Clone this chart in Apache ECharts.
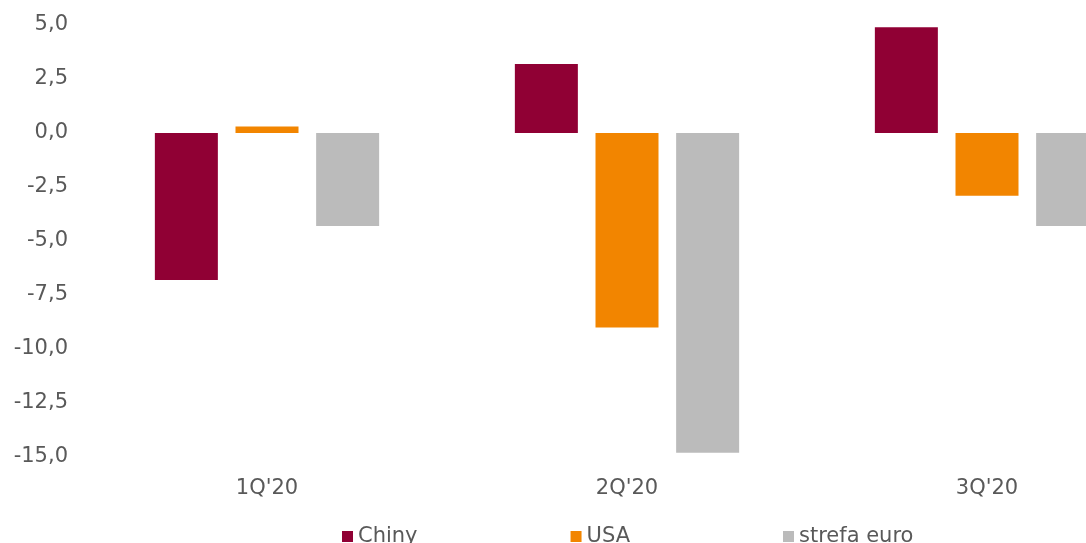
<!DOCTYPE html>
<html lang="pl">
<head>
    <meta charset="UTF-8">
    <title>PKB</title>
    <style>
        html, body { margin: 0; padding: 0; background: #fff; overflow: hidden; }
    </style>
</head>
<body>
<div id="container" style="width: 1200px; height: 543px"></div>
<script type="text/javascript" src="https://cdn.jsdelivr.net/npm/echarts@6/dist/echarts.min.js"></script>
<script type="text/javascript">
    var quarters = ["1Q'20", "2Q'20", "3Q'20"];
    var chiny = [-6.8, 3.2, 4.9];
    var usa = [0.3, -9.0, -2.9];
    var strefaEuro = [-4.3, -14.8, -4.3];

    var txt = {color: '#595959', fontSize: 21, fontFamily: 'DejaVu Sans'};

    // wykres jest przycięty z prawej strony, dlatego kontener jest szerszy niż okno
    var option = {
        animation: false,
        textStyle: txt,
        grid: {left: 87, right: 33, top: 25, bottom: 86},
        legend: {
            data: ['Chiny', 'USA', 'strefa euro'],
            left: 337,
            top: 521,
            itemWidth: 11,
            itemHeight: 11,
            itemGap: 153,
            icon: 'rect',
            textStyle: txt
        },
        xAxis: {
            type: 'category',
            data: quarters,
            axisLine: {show: false},
            axisTick: {show: false},
            axisLabel: Object.assign({margin: 21}, txt)
        },
        yAxis: {
            type: 'value',
            min: -15,
            max: 5,
            interval: 2.5,
            splitLine: {show: false},
            axisLine: {show: false},
            axisTick: {show: false},
            axisLabel: Object.assign({
                margin: 19,
                padding: [5, 0, 0, 0],
                formatter: function (v) { return v.toFixed(1).replace('.', ','); }
            }, txt)
        },
        series: [
            {name: 'Chiny', type: 'bar', data: chiny, barWidth: 63, barGap: '28%', itemStyle: {color: '#900034'}},
            {name: 'USA', type: 'bar', data: usa, barWidth: 63, itemStyle: {color: '#F28500'}},
            {name: 'strefa euro', type: 'bar', data: strefaEuro, barWidth: 63, itemStyle: {color: '#BBBBBB'}}
        ]
    };

    var myChart = echarts.init(document.getElementById('container'));
    myChart.setOption(option);
</script>
</body>
</html>
